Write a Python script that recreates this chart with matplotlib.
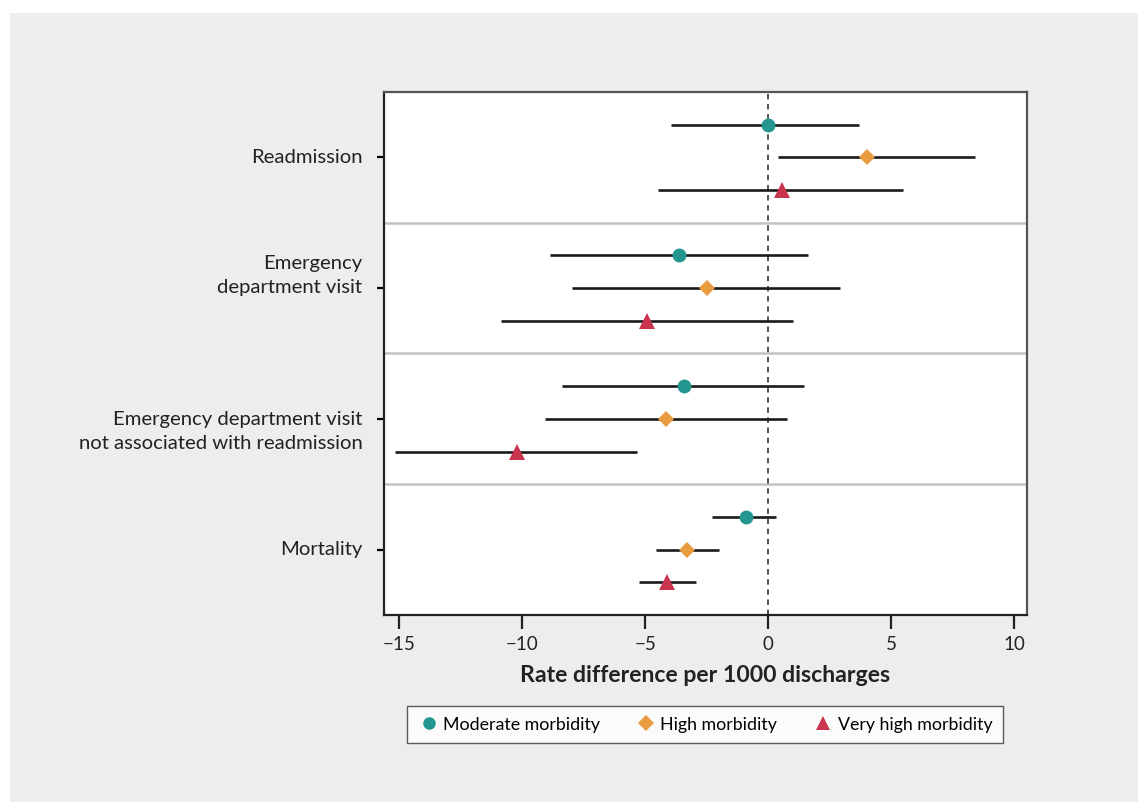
import numpy as np
import matplotlib
matplotlib.use("Agg")
import matplotlib.pyplot as plt
from matplotlib.patches import Rectangle
from matplotlib.transforms import blended_transform_factory

plt.rcParams['font.family'] = ['Lato', 'DejaVu Sans']

outcomes = ["Readmission", "Emergency\ndepartment visit",
            "Emergency department visit\nnot associated with readmission", "Mortality"]
groups = ["Moderate morbidity", "High morbidity", "Very high morbidity"]

# point estimates and 95% CI per outcome (rows) for each group
est = {
    "Moderate morbidity": [0.0, -3.63, -3.43, -0.93],
    "High morbidity": [4.01, -2.48, -4.18, -3.29],
    "Very high morbidity": [0.56, -4.93, -10.24, -4.13],
}
lo = {
    "Moderate morbidity": [-3.97, -8.87, -8.39, -2.29],
    "High morbidity": [0.38, -7.98, -9.08, -4.57],
    "Very high morbidity": [-4.50, -10.87, -15.17, -5.26],
}
hi = {
    "Moderate morbidity": [3.70, 1.63, 1.43, 0.29],
    "High morbidity": [8.42, 2.90, 0.74, -1.99],
    "Very high morbidity": [5.49, 1.02, -5.36, -2.95],
}

colors = ["#23968f", "#e99b40", "#c9344f"]
markers = ["o", "D", "^"]
msizes = [10, 8.5, 11]
offsets = [-0.25, 0.0, 0.25]

fig = plt.figure(figsize=(11.38, 8.02), dpi=100)
fig.patch.set_facecolor("white")
fig.patches.append(Rectangle((10 / 1138, 0), 1, 1 - 13 / 802, transform=fig.transFigure,
                             facecolor="#ededed", edgecolor="none", zorder=-10))

ax = fig.add_axes([0.337, 0.2332, 0.9021 - 0.337, 0.8853 - 0.2332])
ax.set_facecolor("white")

y = np.arange(len(outcomes))
handles = []
for g, c, m, ms, off in zip(groups, colors, markers, msizes, offsets):
    yy = y + off
    e = np.array(est[g])
    ax.hlines(yy, lo[g], hi[g], color="#1a1a1a", lw=1.9, zorder=2)
    h, = ax.plot(e, yy, linestyle="none", marker=m, color=c, markersize=ms,
                 markeredgewidth=0, zorder=3, label=g)
    handles.append(h)

for s in [0.5, 1.5, 2.5]:
    ax.axhline(s, color="#c2c2c2", lw=1.8, zorder=1)
ax.axvline(0, color="#444444", lw=1.3, ls=(0, (3, 2.6)), zorder=1.5)

ax.set_xlim(-15.65, 10.5)
ax.set_ylim(3.5, -0.5)
ax.set_xticks([-15, -10, -5, 0, 5, 10])
ax.tick_params(axis="x", length=10, width=1.6, labelsize=13.5, colors="#222222", pad=5)
ax.tick_params(axis="y", length=5, width=1.6, labelsize=13.5)
ax.set_yticks(y)
ax.set_yticklabels([""] * len(y))

trans = blended_transform_factory(ax.transAxes, ax.transData)
label_shift = [0, -0.1, 0.1, 0]
for yi, lab, sh in zip(y, outcomes, label_shift):
    ax.text(-0.033, yi + sh, lab, transform=trans, ha="right", va="center",
            fontsize=14.6, color="#222222", linespacing=1.5)

for side in ["left", "bottom"]:
    ax.spines[side].set_color("#222222")
    ax.spines[side].set_linewidth(1.6)
for side in ["top", "right"]:
    ax.spines[side].set_color("#555555")
    ax.spines[side].set_linewidth(1.6)

ax.set_xlabel("Rate difference per 1000 discharges", fontsize=16.6, fontweight="bold",
              color="#222222", labelpad=9)

leg = ax.legend(handles=handles, loc="upper center", bbox_to_anchor=(0.5, -0.157), ncol=3,
                frameon=True, fancybox=False, fontsize=12.8, handletextpad=0.2,
                columnspacing=2.0, borderpad=0.6, handlelength=1.2,
                markerscale=0.9)
leg.get_frame().set_edgecolor("#333333")
leg.get_frame().set_linewidth(1.0)

fig.savefig("out.png", dpi=100, facecolor=fig.get_facecolor())
